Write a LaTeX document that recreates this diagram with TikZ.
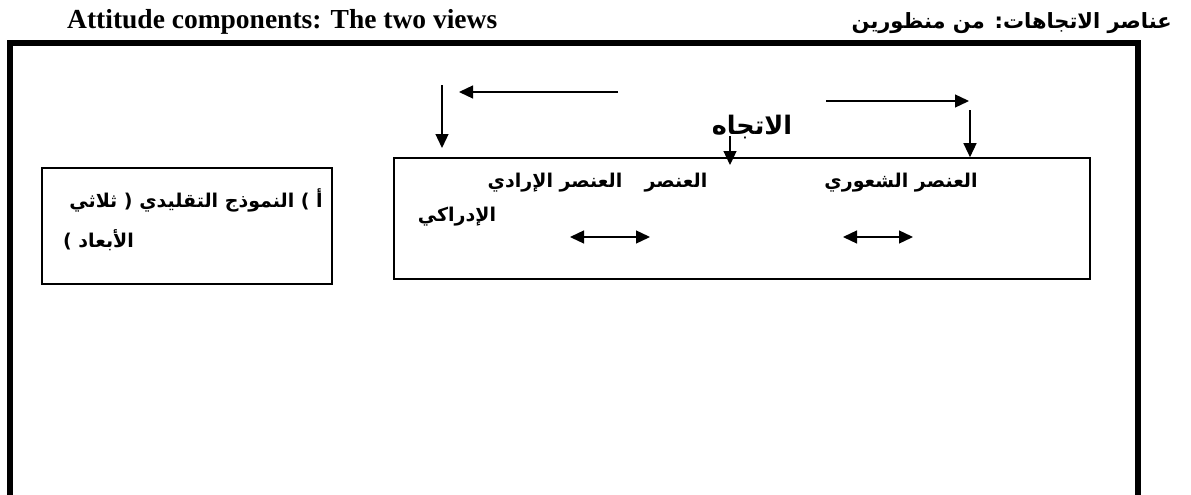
\documentclass[tikz,border=0pt]{standalone}
\usepackage{fontspec}
\setmainfont{Liberation Serif}
\newfontfamily\arabicfont[Script=Arabic]{DejaVu Sans}
\TeXXeTstate=1
\usetikzlibrary{arrows.meta,positioning}

\tikzset{
  frame/.style={line width=5.5pt},
  compbox/.style={draw,line width=1.6pt,minimum width=696pt,minimum height=121pt,inner sep=0pt},
  modelbox/.style={draw,line width=1.6pt,minimum width=290pt,minimum height=116pt,inner sep=0pt},
  ar/.style={font=\arabicfont\bfseries\fontsize{19}{22}\selectfont,inner sep=0pt},
  arbig/.style={font=\arabicfont\bfseries\fontsize{25.5}{28}\selectfont,inner sep=0pt},
  flow/.style={-{Triangle[length=14pt,width=13pt]},line width=1.3pt},
  both/.style={{Triangle[length=14pt,width=13pt]}-{Triangle[length=14pt,width=13pt]},line width=1.3pt}
}

\begin{document}
\begin{tikzpicture}[x=1pt,y=-1pt]
  \clip (0,0) rectangle (1191,495);
  % titles
  \node[font=\bfseries\fontsize{27.5}{30}\selectfont,anchor=base west,inner sep=0pt] (entitle) at (67,29) {Attitude components: The two views};
  \node[font=\arabicfont\bfseries\fontsize{21}{24}\selectfont,anchor=base east,inner sep=0pt] (artitle) at (1172,29) {\beginR عناصر الاتجاهات: من منظورين\endR};
  \draw[frame] (10,500) -- (10,43) -- (1138,43) -- (1138,500);

  % left box: the classic model
  \node[modelbox] (model) at (187,226) {};
  \node[ar,anchor=east] (modelA) at (323,200) {\beginR أ ) النموذج التقليدي ( ثلاثي\endR};
  \node[ar,anchor=west] (modelB) at (63,240) {\beginR الأبعاد )\endR};

  % right box: the three components
  \node[compbox] (comp) at (742,218.5) {};
  \node[ar] (affect) at (901,183) {\beginR العنصر الشعوري\endR};
  \node[ar] (conat) at (555,183) {\beginR العنصر الإرادي\endR};
  \node[ar] (cogn) at (676,183) {\beginR العنصر\endR};
  \node[ar] (cognB) at (457,217) {\beginR الإدراكي\endR};
  \node[arbig] (attitude) at (752,127) {\beginR الاتجاه\endR};

  % arrows
  \coordinate (la) at (618,92); \coordinate (lb) at (459,92);
  \coordinate (lc) at (442,85); \coordinate (ld) at (442,148);
  \coordinate (ra) at (826,101); \coordinate (rb) at (969,101);
  \coordinate (rc) at (970,110);
  \coordinate (ma) at (730,136); \coordinate (mb) at (730,165);
  \draw[flow] (la) -- (lb);
  \draw[flow] (lc) -- (ld);
  \draw[flow] (ra) -- (rb);
  \draw[flow] (rc) -- (rc |- comp.north);
  \draw[flow] (ma) -- (mb);

  \coordinate (da) at (570,237); \coordinate (db) at (650,237);
  \coordinate (dc) at (843,237); \coordinate (dd) at (913,237);
  \draw[both] (da) -- (db);
  \draw[both] (dc) -- (dd);
\end{tikzpicture}
\end{document}
